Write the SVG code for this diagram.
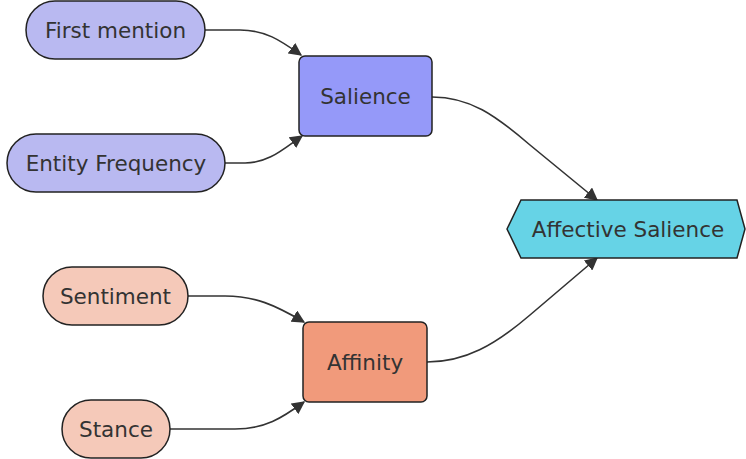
<svg xmlns="http://www.w3.org/2000/svg" width="746" height="459" viewBox="0 0 746 459">
<defs>
<style>
.lbl{font-family:"DejaVu Sans","Open Sans",sans-serif;font-size:21.5px;fill:#333;text-anchor:middle;dominant-baseline:central}
.nd{stroke:#222;stroke-width:1.5}
.sb{fill:#b9b9f1}
.sp{fill:#f5c9b9}
.edge{fill:none;stroke:#333;stroke-width:1.6;marker-end:url(#arr)}
</style>
<marker id="arr" viewBox="0 0 10 10" refX="9" refY="5" markerWidth="13" markerHeight="13" markerUnits="userSpaceOnUse" orient="auto">
<path d="M0,0 L10,5 L0,10 z" fill="#333"/>
</marker>
</defs>
<rect width="746" height="459" fill="#fff"/>
<g id="edges">
<path class="edge" d="M205,30 L240,30 C265,30 280,40 301,55"/>
<path class="edge" d="M225,163 L245,163 C268,163 282,150 302,136"/>
<path class="edge" d="M432,97 C470,97 495,115 530,145 L597,200"/>
<path class="edge" d="M188,296 L225,296 C255,296 275,305 304,322"/>
<path class="edge" d="M170,429 L235,429 C265,429 282,418 304,402"/>
<path class="edge" d="M427,362 C465,362 495,345 530,315 L597,258"/>
</g>
<g id="first-mention"><rect class="nd sb" x="26" y="1" width="179" height="58" rx="29"/><text class="lbl" x="115.5" y="30">First mention</text></g>
<g id="entity-frequency"><rect class="nd sb" x="7" y="134" width="218" height="58" rx="29"/><text class="lbl" x="116" y="163">Entity Frequency</text></g>
<g id="salience"><rect class="nd" fill="#9599f9" x="299" y="56" width="133" height="80" rx="6"/><text class="lbl" x="365.5" y="96">Salience</text></g>
<g id="sentiment"><rect class="nd sp" x="43" y="267" width="145" height="58" rx="29"/><text class="lbl" x="115.5" y="296">Sentiment</text></g>
<g id="stance"><rect class="nd sp" x="62" y="400" width="108" height="58" rx="29"/><text class="lbl" x="116" y="429">Stance</text></g>
<g id="affinity"><rect class="nd" fill="#f19a7b" x="303" y="322" width="124" height="80" rx="6"/><text class="lbl" x="365" y="362">Affinity</text></g>
<g id="affective-salience"><polygon class="nd" fill="#66d3e6" points="507,229 521,200 737,200 745,229 737,258 521,258"/><text class="lbl" x="628" y="229">Affective Salience</text></g>
</svg>
